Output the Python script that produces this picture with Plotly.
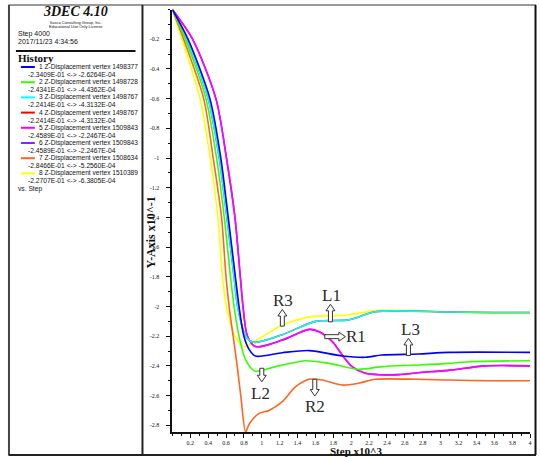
import plotly.graph_objects as go

W, H = 540, 458

# ---------------- data (display units x10^-1) ----------------
names = ["1 Z-Displacement vertex 1498377", "2 Z-Displacement vertex 1498728",
         "3 Z-Displacement vertex 1498767", "4 Z-Displacement vertex 1498767",
         "5 Z-Displacement vertex 1509843", "6 Z-Displacement vertex 1509843",
         "7 Z-Displacement vertex 1508634", "8 Z-Displacement vertex 1510389"]
ranges = ["-2.3409E-01 <-> -2.6264E-04", "-2.4341E-01 <-> -4.4362E-04",
          "-2.2414E-01 <-> -4.3132E-04", "-2.2414E-01 <-> -4.3132E-04",
          "-2.4589E-01 <-> -2.2467E-04", "-2.4589E-01 <-> -2.2467E-04",
          "-2.8466E-01 <-> -5.2560E-04", "-2.2707E-01 <-> -6.3805E-04"]
colors = ["#0000ff", "#33ff00", "#00ffff", "#ff0000", "#ff00ff", "#7a2cff", "#ff6420", "#ffff00"]

blue_x = [0, 0.175, 0.42, 0.542, 0.625, 0.705, 0.746, 0.80, 0.86, 0.93, 1.23, 1.53, 1.90, 2.16, 2.34, 2.75, 3.09, 4.0]
blue_y = [0, -0.2, -0.6, -1.0, -1.4, -1.8, -2.0, -2.2, -2.29, -2.334, -2.311, -2.297, -2.333, -2.342, -2.327, -2.32, -2.309, -2.309]

green_x = [0, 0.145, 0.375, 0.494, 0.58, 0.65, 0.69, 0.746, 0.82, 0.92, 1.155, 1.49, 1.75, 2.08, 2.34, 2.75, 3.09, 3.31, 4.0]
green_y = [0, -0.2, -0.6, -1.0, -1.4, -1.8, -2.0, -2.2, -2.36, -2.434, -2.405, -2.365, -2.383, -2.423, -2.405, -2.394, -2.383, -2.372, -2.365]

cyan_x = [0, 0.16, 0.40, 0.524, 0.61, 0.69, 0.73, 0.82, 0.91, 1.23, 1.6, 1.97, 2.27, 3.09, 3.6, 4.0]
cyan_y = [0, -0.2, -0.6, -1.0, -1.4, -1.8, -2.0, -2.2, -2.241, -2.19, -2.10, -2.09, -2.035, -2.037, -2.04, -2.04]

red_x = cyan_x
red_y = cyan_y

magenta_x = [0, 0.226, 0.487, 0.605, 0.70, 0.76, 0.79, 0.84, 0.93, 1.23, 1.53, 1.64, 1.79, 1.90, 2.01, 2.16, 2.53, 2.75, 3.09, 3.5, 4.0]
magenta_y = [0, -0.2, -0.6, -1.0, -1.4, -1.8, -2.0, -2.2, -2.27, -2.226, -2.154, -2.17, -2.237, -2.327, -2.405, -2.45, -2.459, -2.446, -2.43, -2.40, -2.40]

purple_x = magenta_x
purple_y = magenta_y

orange_x = [0, 0.126, 0.35, 0.457, 0.55, 0.60, 0.635, 0.68, 0.725, 0.765, 0.82, 0.86, 0.97, 1.08, 1.23, 1.38, 1.53, 1.675, 1.90, 2.08, 2.27, 2.75, 3.09, 3.57, 4.0]
orange_y = [0, -0.2, -0.6, -1.0, -1.4, -1.8, -2.0, -2.2, -2.4, -2.6, -2.8466, -2.79, -2.72, -2.70, -2.64, -2.54, -2.49, -2.495, -2.529, -2.517, -2.49, -2.49, -2.495, -2.50, -2.50]

yellow_x = [0, 0.108, 0.31, 0.423, 0.51, 0.56, 0.605, 0.70, 0.80, 0.96, 1.23, 1.53, 1.97, 2.27, 2.71, 3.09, 3.5, 4.0]
yellow_y = [0, -0.2, -0.6, -1.0, -1.4, -1.8, -2.0, -2.2, -2.27, -2.22, -2.125, -2.07, -2.057, -2.028, -2.028, -2.037, -2.046, -2.046]

series_x = [blue_x, green_x, cyan_x, red_x, magenta_x, purple_x, orange_x, yellow_x]
series_y = [blue_y, green_y, cyan_y, red_y, magenta_y, purple_y, orange_y, yellow_y]

x_ticks = [round(0.2 * i, 1) for i in range(1, 21)]
y_ticks = [round(-0.2 * i, 1) for i in range(1, 15)]
x_ticktext = ["%g" % v for v in x_ticks]
y_ticktext = ["%g" % v for v in y_ticks]

# labels on the plot: (text, x, y) in data units, and arrows (x0,y0 base -> x1,y1 tip)
labels = [("R3", 1.24, -1.96), ("L1", 1.78, -1.923), ("R1", 2.05, -2.203),
          ("L3", 2.66, -2.158), ("L2", 0.99, -2.585), ("R2", 1.59, -2.675)]
arrows = [((1.23, -2.132), (1.23, -2.02)), ((1.768, -2.103), (1.768, -1.985)),
          ((1.705, -2.203), (1.935, -2.203)), ((2.64, -2.33), (2.64, -2.215)),
          ((1.0, -2.416), (1.0, -2.507)), ((1.593, -2.49), (1.593, -2.603))]

# ---------------- figure ----------------
XD = (173 / W, 532 / W)
YR = (-2.8466, 0)
YD = (1 - (9.5 + 2.8466 * 148.5) / H, 1 - 9.5 / H)

fig = go.Figure()
for i in reversed(range(8)):
    fig.add_trace(go.Scatter(x=series_x[i], y=series_y[i], mode="lines",
                             line=dict(color=colors[i], width=1.6, shape="spline", smoothing=0.8),
                             name=names[i], showlegend=False, hoverinfo="skip"))

def px(x):
    return x / W
def py(y):
    return 1 - y / H

def d2p(x, y):
    X = XD[0] * W + (x - 0) / 4 * (XD[1] - XD[0]) * W
    Y = (1 - YD[1]) * H + (0 - y) / (YR[1] - YR[0]) * (YD[1] - YD[0]) * H
    return X, Y

shapes = []
# outer frame
shapes.append(dict(type="line", xref="paper", yref="paper", x0=px(8.5), x1=px(538), y0=py(5), y1=py(5),
                   line=dict(color="#999", width=2)))
shapes.append(dict(type="line", xref="paper", yref="paper", x0=px(9), x1=px(9), y0=py(5), y1=py(455),
                   line=dict(color="#444", width=2)))
shapes.append(dict(type="line", xref="paper", yref="paper", x0=px(8.5), x1=px(538), y0=py(455), y1=py(455),
                   line=dict(color="#222", width=2)))
shapes.append(dict(type="line", xref="paper", yref="paper", x0=px(537.5), x1=px(537.5), y0=py(5), y1=py(455),
                   line=dict(color="#111", width=2)))
shapes.append(dict(type="line", xref="paper", yref="paper", x0=px(143), x1=px(143), y0=py(5), y1=py(455),
                   line=dict(color="#222", width=2)))
# legend rule
shapes.append(dict(type="line", xref="paper", yref="paper", x0=px(16), x1=px(136), y0=py(51), y1=py(51),
                   line=dict(color="#111", width=2)))

# hollow arrows
for (b, t) in arrows:
    x0, y0 = d2p(*b)
    x1, y1 = d2p(*t)
    dx, dy = x1 - x0, y1 - y0
    L = (dx * dx + dy * dy) ** 0.5
    ux, uy = dx / L, dy / L
    nx, ny = -uy, ux
    hw, aw, hl = 2.0, 4.5, 6.5
    hx, hy = x1 - ux * hl, y1 - uy * hl
    pts = [(x0 + nx * hw, y0 + ny * hw), (hx + nx * hw, hy + ny * hw), (hx + nx * aw, hy + ny * aw),
           (x1, y1), (hx - nx * aw, hy - ny * aw), (hx - nx * hw, hy - ny * hw), (x0 - nx * hw, y0 - ny * hw)]
    path = "M " + " L ".join("%.4f,%.4f" % (px(a), py(c)) for a, c in pts) + " Z"
    shapes.append(dict(type="path", xref="paper", yref="paper", path=path,
                       line=dict(color="#333", width=1), fillcolor="white"))

ann = []
for t, x, y in labels:
    ann.append(dict(text=t, x=x, y=y, xref="x", yref="y", showarrow=False,
                    xanchor="center", yanchor="middle",
                    font=dict(family="Liberation Serif", size=17, color="#2a2a2a")))

def note(text, x, y, size, family="Liberation Sans", xanchor="left", angle=0):
    ann.append(dict(text=text, x=px(x), y=py(y), xref="paper", yref="paper", xanchor=xanchor,
                    yanchor="middle", textangle=angle, showarrow=False,
                    font=dict(family=family, size=size, color="#111")))

# legend panel
note("<b><i>3DEC 4.10</i></b>", 76, 12, 14, "Liberation Serif", "center")
note("Itasca Consulting Group, Inc.", 76, 22.5, 4, "Liberation Sans", "center")
note("Educational Use Only License", 76, 26.8, 4, "Liberation Sans", "center")
note("Step 4000", 16, 34, 7)
note("2017/11/23 4:34:56", 16, 42, 7)
note("<b>History</b>", 16, 58, 11, "Liberation Serif")
for i in range(8):
    ye = 67 + 15.2 * i
    shapes.append(dict(type="line", xref="paper", yref="paper", x0=px(21), x1=px(35), y0=py(ye), y1=py(ye),
                       line=dict(color=colors[i], width=2)))
    note(names[i], 141, ye, 6.6, xanchor="right")
    note(ranges[i], 26, ye + 7.5, 6.7)
note("vs. Step", 16, 189, 6.7)

# axis titles
note("<b>Y-Axis x10^-1</b>", 152, 232, 12, "Liberation Serif", "center", -90)
note("<b>Step x10^3</b>", 357, 450.5, 11, "Liberation Serif", "center")

fig.update_layout(
    width=W, height=H, margin=dict(l=0, r=0, t=0, b=0),
    paper_bgcolor="white", plot_bgcolor="white",
    shapes=shapes, annotations=ann,
    xaxis=dict(domain=list(XD), range=[0, 4], showgrid=False, zeroline=False,
               showline=True, linecolor="#111", linewidth=2,
               tickmode="array", tickvals=x_ticks, ticktext=x_ticktext,
               ticks="outside", ticklen=4, tickwidth=1, tickcolor="#111",
               minor=dict(dtick=0.1, tick0=0, ticks="outside", ticklen=2, tickcolor="#111", showgrid=False),
               tickfont=dict(family="Liberation Serif", size=6, color="#111")),
    yaxis=dict(domain=list(YD), range=list(YR), showgrid=False, zeroline=False,
               showline=True, linecolor="#111", linewidth=2,
               tickmode="array", tickvals=y_ticks, ticktext=y_ticktext,
               ticks="outside", ticklen=4, tickwidth=1, tickcolor="#111",
               minor=dict(dtick=0.1, tick0=0, ticks="outside", ticklen=2, tickcolor="#111", showgrid=False),
               ticklabelstandoff=6,
               tickfont=dict(family="Liberation Serif", size=6, color="#111")),
)

fig.write_html("out.html", config={"displayModeBar": False},
               post_script="document.body.style.margin='0';")
